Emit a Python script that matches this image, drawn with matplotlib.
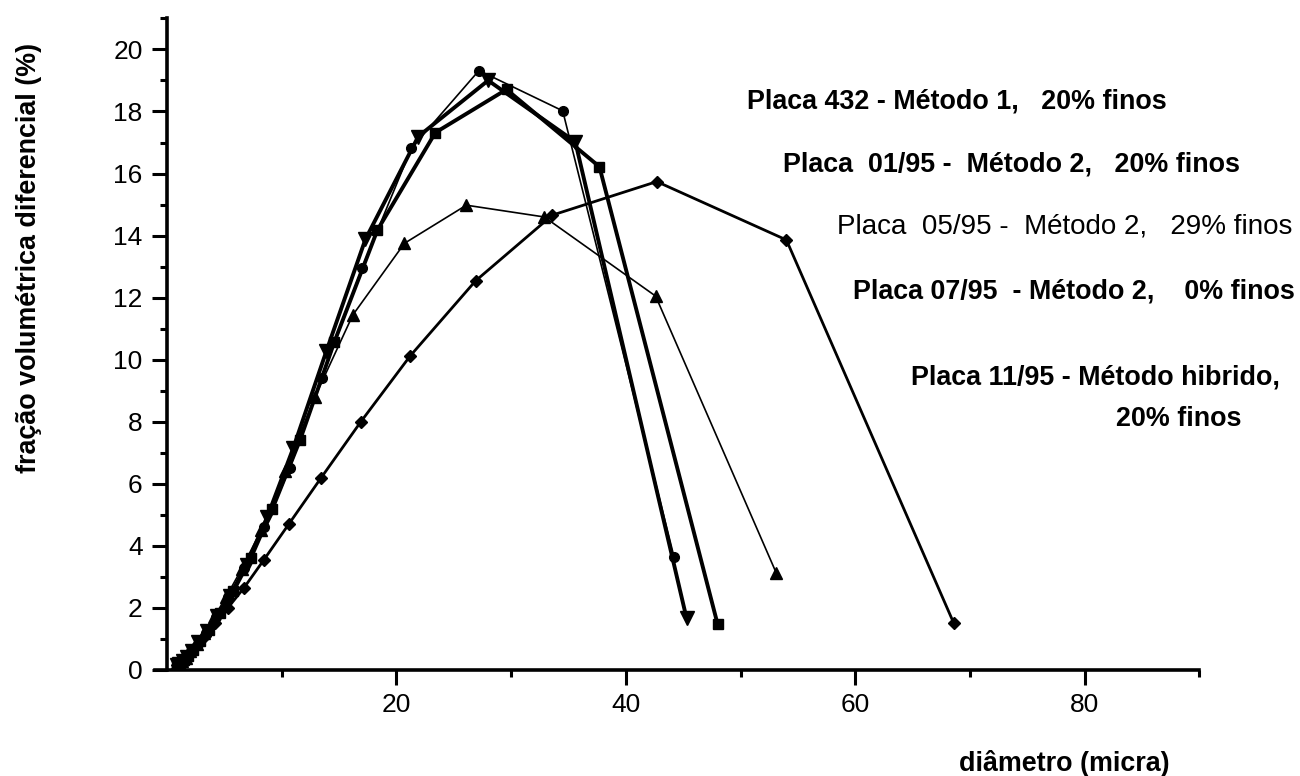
import matplotlib
matplotlib.use("Agg")
import matplotlib.pyplot as plt
from matplotlib.ticker import MultipleLocator, FixedLocator

plt.rcParams['font.family'] = ['Liberation Sans', 'DejaVu Sans']

# --- data ---
circle_x = [0.84, 1.06, 1.34, 1.69, 2.12, 2.68, 3.37, 4.25, 5.35, 6.75, 8.5, 10.7, 13.5, 17.0, 21.3, 27.2, 34.5, 44.2]
circle_y = [0.15, 0.2, 0.3, 0.42, 0.6, 0.85, 1.2, 1.7, 2.35, 3.3, 4.6, 6.5, 9.4, 12.95, 16.81, 19.32, 18.02, 3.65]

dtri_x = [0.87, 1.09, 1.38, 1.73, 2.18, 2.75, 3.47, 4.37, 5.5, 6.95, 8.75, 11.0, 13.9, 17.3, 21.9, 28.0, 35.6, 45.3]
dtri_y = [0.15, 0.2, 0.3, 0.42, 0.62, 0.9, 1.25, 1.75, 2.4, 3.4, 4.94, 7.14, 10.28, 13.88, 17.19, 19.0, 17.02, 1.66]

square_x = [0.91, 1.15, 1.45, 1.83, 2.3, 2.9, 3.65, 4.6, 5.8, 7.3, 9.2, 11.6, 14.6, 18.35, 23.4, 29.6, 37.7, 48.0]
square_y = [0.15, 0.22, 0.32, 0.45, 0.65, 0.92, 1.3, 1.85, 2.55, 3.6, 5.2, 7.41, 10.58, 14.18, 17.32, 18.71, 16.22, 1.48]

tri_x = [0.81, 1.02, 1.29, 1.63, 2.05, 2.58, 3.25, 4.1, 5.15, 6.5, 8.2, 10.3, 12.9, 16.2, 20.7, 26.1, 32.9, 42.6, 53.1]
tri_y = [0.15, 0.2, 0.28, 0.4, 0.6, 0.85, 1.2, 1.7, 2.35, 3.25, 4.5, 6.4, 8.8, 11.44, 13.75, 14.98, 14.6, 12.05, 3.14]

diam_x = [0.84, 1.05, 1.33, 1.67, 2.1, 2.65, 3.35, 4.2, 5.3, 6.68, 8.43, 10.6, 13.45, 16.9, 21.2, 26.9, 33.6, 42.7, 54.0, 68.6]
diam_y = [0.15, 0.2, 0.28, 0.4, 0.55, 0.8, 1.1, 1.5, 2.0, 2.63, 3.54, 4.69, 6.2, 8.0, 10.12, 12.54, 14.66, 15.74, 13.86, 1.5]

legend_texts = [
    "Placa 432 - Método 1,   20% finos",
    "Placa  01/95 -  Método 2,   20% finos",
    "Placa  05/95 -  Método 2,   29% finos",
    "Placa 07/95  - Método 2,    0% finos",
    "Placa 11/95 - Método hibrido,",
    "20% finos",
]
x_major = [20, 40, 60, 80]
x_minor = [10, 30, 50, 70, 90]

fig = plt.figure(figsize=(13, 7.76), dpi=100)
ax = fig.add_axes([0.1196, 0.1366, 0.9226 - 0.1196, 0.9763 - 0.1366])

ax.plot(circle_x, circle_y, color='black', lw=1.2, marker='o', ms=7, zorder=3)
ax.plot(dtri_x, dtri_y, color='black', lw=2.8, marker='v', ms=9.5, zorder=3)
ax.plot(square_x, square_y, color='black', lw=2.8, marker='s', ms=7, zorder=3)
ax.plot(tri_x, tri_y, color='black', lw=1.2, marker='^', ms=8, zorder=3)
ax.plot(diam_x, diam_y, color='black', lw=2.0, marker='D', ms=6.5, zorder=3)

ax.set_xlim(-1, 90)
ax.set_ylim(0, 21)
ax.spines['left'].set_position(('data', 0))
ax.spines['top'].set_visible(False)
ax.spines['right'].set_visible(False)
ax.spines['left'].set_linewidth(2.6)
ax.spines['bottom'].set_linewidth(2.6)

ax.xaxis.set_major_locator(FixedLocator(x_major))
ax.xaxis.set_minor_locator(FixedLocator(x_minor))
ax.yaxis.set_major_locator(MultipleLocator(2))
ax.yaxis.set_minor_locator(MultipleLocator(1))
ax.tick_params(axis='both', which='major', direction='out', length=10.5, width=2.2, labelsize=19)
ax.tick_params(axis='both', which='minor', direction='out', length=5, width=2.2)
ax.tick_params(axis='x', which='major', pad=6)
ax.tick_params(axis='y', which='major', pad=7)

fs = 19.4
fig.text(0.022, 0.668, "fração volumétrica diferencial (%)", rotation=90, ha='center', va='center',
         fontsize=fs, fontweight='bold')
fig.text(0.819, 0.016, "diâmetro (micra)", ha='center', va='center', fontsize=fs, fontweight='bold')

pos = [(0.575, 0.8604, 'bold', fs), (0.602, 0.7788, 'bold', fs), (0.6435, 0.6985, 'normal', 20.0),
       (0.656, 0.6147, 'bold', fs), (0.7008, 0.504, 'bold', fs), (0.8588, 0.451, 'bold', fs)]
for t, (x, y, w, s) in zip(legend_texts, pos):
    fig.text(x, y, t, ha='left', va='baseline', fontsize=s, fontweight=w)

fig.savefig("out.png", dpi=100)
